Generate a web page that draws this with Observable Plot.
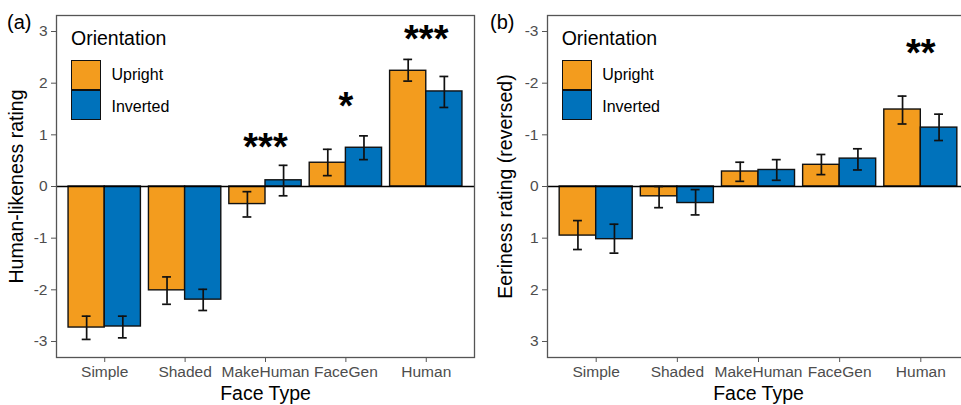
<!DOCTYPE html>
<html><head><meta charset="utf-8">
<script src="https://cdn.jsdelivr.net/npm/d3@7"></script>
<script src="https://cdn.jsdelivr.net/npm/@observablehq/plot@0.6"></script>
<style>
body{margin:0;background:#fff;font-family:"Liberation Sans",Arial,sans-serif}
#root{position:relative;width:961px;height:405px;overflow:hidden;background:#fff}
.panel{position:absolute;top:0}
.panel svg{max-width:none !important;display:block}
.tag{position:absolute;font-size:20px;line-height:1;color:#000}
.ltitle{position:absolute;font-size:19.5px;line-height:1;color:#000}
.llab{position:absolute;font-size:16px;line-height:1;color:#000}
.key{position:absolute;width:30px;height:30px;box-sizing:border-box;border:1.6px solid #111}
g[aria-label="x-axis tick label"], g[aria-label="y-axis tick label"]{fill:#4d4d4d;font-size:15.5px}
g[aria-label="x-axis label"], g[aria-label="y-axis label"]{fill:#000;font-size:19.5px}
g[aria-label="x-axis tick"], g[aria-label="y-axis tick"]{stroke:#555}
</style>
</head><body>
<div id="root"></div>
<script>
// ---- data ----
const faceTypes = ["Simple", "Shaded", "MakeHuman", "FaceGen", "Human"];
const orientations = ["Upright", "Inverted"];
const yTicks = [-3, -2, -1, 0, 1, 2, 3];

// (a) Human-likeness rating
const humanUpright   = [-2.73, -2.01, -0.34, 0.46, 2.24];
const humanUprightLo = [-2.96, -2.28, -0.59, 0.21, 2.04];
const humanUprightHi = [-2.51, -1.75, -0.10, 0.72, 2.46];
const humanInverted   = [-2.71, -2.19, 0.12, 0.75, 1.84];
const humanInvertedLo = [-2.93, -2.40, -0.18, 0.52, 1.53];
const humanInvertedHi = [-2.51, -1.99, 0.41, 0.98, 2.13];
const humanSig  = ["", "", "***", "*", "***"];
const humanSigY = [null, null, 0.74, 1.54, 2.83];

// (b) Eeriness rating (reversed axis)
const eerieUpright   = [0.95, 0.19, -0.29, -0.42, -1.49];
const eerieUprightLo = [0.66, 0.00, -0.47, -0.62, -1.75];
const eerieUprightHi = [1.22, 0.41, -0.10, -0.23, -1.21];
const eerieInverted   = [1.02, 0.32, -0.32, -0.54, -1.14];
const eerieInvertedLo = [0.73, 0.06, -0.52, -0.73, -1.40];
const eerieInvertedHi = [1.29, 0.55, -0.12, -0.32, -0.89];
const eerieSig  = ["", "", "", "", "**"];
const eerieSigY = [null, null, null, null, -2.56];

const colors = ["#F39C1E", "#0072BB"];

function buildRows(up, upLo, upHi, inv, invLo, invHi) {
  const rows = [];
  faceTypes.forEach((f, i) => {
    const pos = i + 1;
    rows.push({face: f, orientation: "Upright", value: up[i], lo: upLo[i], hi: upHi[i],
               x1: pos - 0.45, x2: pos, xc: pos - 0.225});
    rows.push({face: f, orientation: "Inverted", value: inv[i], lo: invLo[i], hi: invHi[i],
               x1: pos, x2: pos + 0.45, xc: pos + 0.225});
  });
  return rows;
}

function makePanel(rows, sig, sigY, yLabel, reverse, width, marginLeft, marginRight, yLabelOffset) {
  const sigRows = sig.map((s, i) => ({x: i + 1, y: sigY[i], label: s})).filter(d => d.label);
  const capW = 0.055;
  return Plot.plot({
    width, height: 405,
    marginTop: 15, marginBottom: 48, marginLeft, marginRight,
    style: {fontFamily: "'Liberation Sans', Arial, sans-serif", fontSize: "15.5px", color: "#000", background: "#fff"},
    x: {type: "linear", domain: [0.4, 5.6]},
    y: {domain: [-3.31, 3.31], reverse},
    color: {domain: orientations, range: colors},
    marks: [
      Plot.rectY(rows, {x1: "x1", x2: "x2", y: "value", fill: "orientation", stroke: "#111", strokeWidth: 1.4}),
      Plot.ruleY([0], {stroke: "#000", strokeWidth: 1.3}),
      Plot.ruleX(rows, {x: "xc", y1: "lo", y2: "hi", stroke: "#111", strokeWidth: 1.7}),
      Plot.ruleY(rows, {y: "lo", x1: d => d.xc - capW, x2: d => d.xc + capW, stroke: "#111", strokeWidth: 1.7}),
      Plot.ruleY(rows, {y: "hi", x1: d => d.xc - capW, x2: d => d.xc + capW, stroke: "#111", strokeWidth: 1.7}),
      Plot.text(sigRows, {x: "x", y: "y", text: "label", fontSize: 38, fontWeight: "bold", fill: "#000"}),
      Plot.frame({stroke: "#555", strokeWidth: 1.3}),
      Plot.axisX({ticks: [1, 2, 3, 4, 5], tickFormat: i => faceTypes[i - 1], tickSize: 5, tickPadding: 3,
                  label: "Face Type", labelAnchor: "center", labelOffset: 42, labelArrow: "none"}),
      Plot.axisY({ticks: yTicks, tickFormat: d => String(d), tickSize: 5, tickPadding: 4,
                  label: yLabel, labelAnchor: "center", labelOffset: yLabelOffset, labelArrow: "none"})
    ]
  });
}

const root = document.getElementById("root");

function addPanel(chart, left, width) {
  const wrap = document.createElement("div");
  wrap.className = "panel";
  wrap.style.left = left + "px";
  wrap.style.width = width + "px";
  wrap.appendChild(chart);
  root.appendChild(wrap);
}

function addDiv(cls, text, left, top, bg) {
  const d = document.createElement("div");
  d.className = cls;
  if (text) d.textContent = text;
  d.style.left = left + "px";
  d.style.top = top + "px";
  if (bg) d.style.background = bg;
  root.appendChild(d);
}

function addLegend(left) {
  addDiv("ltitle", "Orientation", left, 28.5);
  addDiv("key", "", left, 59.5, colors[0]);
  addDiv("key", "", left, 90, colors[1]);
  addDiv("llab", orientations[0], left + 40.5, 66.5);
  addDiv("llab", orientations[1], left + 40.5, 98.5);
}

const rowsA = buildRows(humanUpright, humanUprightLo, humanUprightHi, humanInverted, humanInvertedLo, humanInvertedHi);
const rowsB = buildRows(eerieUpright, eerieUprightLo, eerieUprightHi, eerieInverted, eerieInvertedLo, eerieInvertedHi);

addPanel(makePanel(rowsA, humanSig, humanSigY, "Human-likeness rating", false, 480, 56, 6, 47), 0, 480);
addPanel(makePanel(rowsB, eerieSig, eerieSigY, "Eeriness rating (reversed)", true, 495, 67, 6, 49), 480, 495);

addDiv("tag", "(a)", 7, 12);
addDiv("tag", "(b)", 490, 12);
addLegend(71);
addLegend(561.7);
</script>
</body></html>
